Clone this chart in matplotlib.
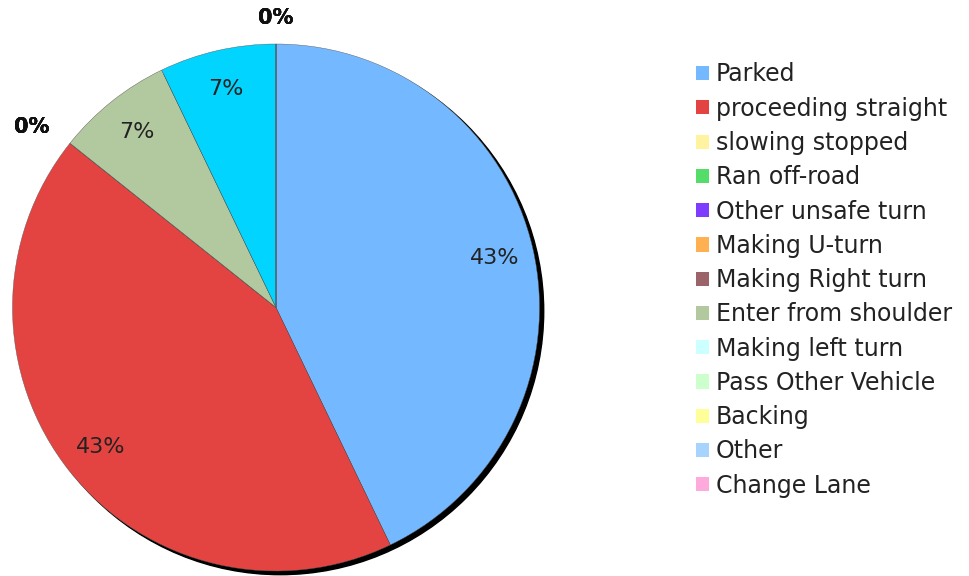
import matplotlib
matplotlib.use("Agg")
from matplotlib import pyplot as plt
from matplotlib.patches import Patch, Circle
import numpy as np

categories = ["Parked", "proceeding straight", "slowing stopped", "Ran off-road",
              "Other unsafe turn", "Making U-turn", "Making Right turn",
              "Enter from shoulder", "Making left turn", "Pass Other Vehicle",
              "Backing", "Other", "Change Lane"]
counts = [6, 6, 0, 0, 0, 0, 0, 1, 1, 0, 0, 0, 0]
slice_colors = ["#74b9ff", "#e34441", "#fff3a0", "#55dd6a", "#7d3cff", "#ffb050",
                "#9b6468", "#b2c9a0", "#00d4ff", "#ccffcc", "#ffff99", "#a6d4ff",
                "#ffaadd"]
legend_colors = ["#74b9ff", "#e34441", "#fff3a0", "#55dd6a", "#7d3cff", "#ffb050",
                 "#9b6468", "#b2c9a0", "#ccffff", "#ccffcc", "#ffff99", "#a6d4ff",
                 "#ffaadd"]

W, H = 969, 576
fig = plt.figure(figsize=(W / 100, H / 100), dpi=100)

# pie axes placed in pixel terms: centre (276, 268.5), radius 263.5 px
R_PX = 263.5
CX, CY = 276, 268.5
LIM = 1.2
ax = fig.add_axes([(CX - LIM * R_PX) / W, (CY - LIM * R_PX) / H,
                   2 * LIM * R_PX / W, 2 * LIM * R_PX / H])

# black drop shadow behind the pie
ax.add_patch(Circle((0.016, -0.014), 1.0, color="black", zorder=0))

total = sum(counts)
nonzero = [c if c > 0 else 1e-9 for c in counts]
wedges, _ = ax.pie(nonzero, colors=slice_colors, startangle=90, counterclock=False,
                   radius=1.0, wedgeprops=dict(linewidth=0.3, edgecolor="#555555"))
for w in wedges:
    w.set_zorder(1)

for w, c in zip(wedges, counts):
    mid = np.deg2rad((w.theta1 + w.theta2) / 2)
    pct = 100.0 * c / total
    if c > 0:
        r = 0.85
        ax.text(r * np.cos(mid), r * np.sin(mid), f"{pct:.0f}%", ha="center",
                va="center", fontsize=16, color="#222222", zorder=3)
    else:
        r = 1.10
        x, y = r * np.cos(mid), r * np.sin(mid)
        if abs(x) < 0.05:
            ha = "center"
        else:
            ha = "right" if x < 0 else "left"
        ax.text(x, y, "0%", ha=ha, va="center", fontsize=15,
                fontweight="bold", color="#111111", zorder=3)

ax.set_xlim(-LIM, LIM)
ax.set_ylim(-LIM, LIM)
ax.set_aspect("equal")
ax.axis("off")

handles = [Patch(facecolor=col, edgecolor="none") for col in legend_colors]
leg = fig.legend(handles, categories, loc="upper left",
                 bbox_to_anchor=(687 / W, 1 - 53 / H), frameon=False,
                 fontsize=17, handlelength=0.55, handleheight=0.55,
                 handletextpad=0.28, labelspacing=0.435, borderaxespad=0)
for t in leg.get_texts():
    t.set_color("#222222")

plt.savefig("out.png", dpi=100)
plt.close()
